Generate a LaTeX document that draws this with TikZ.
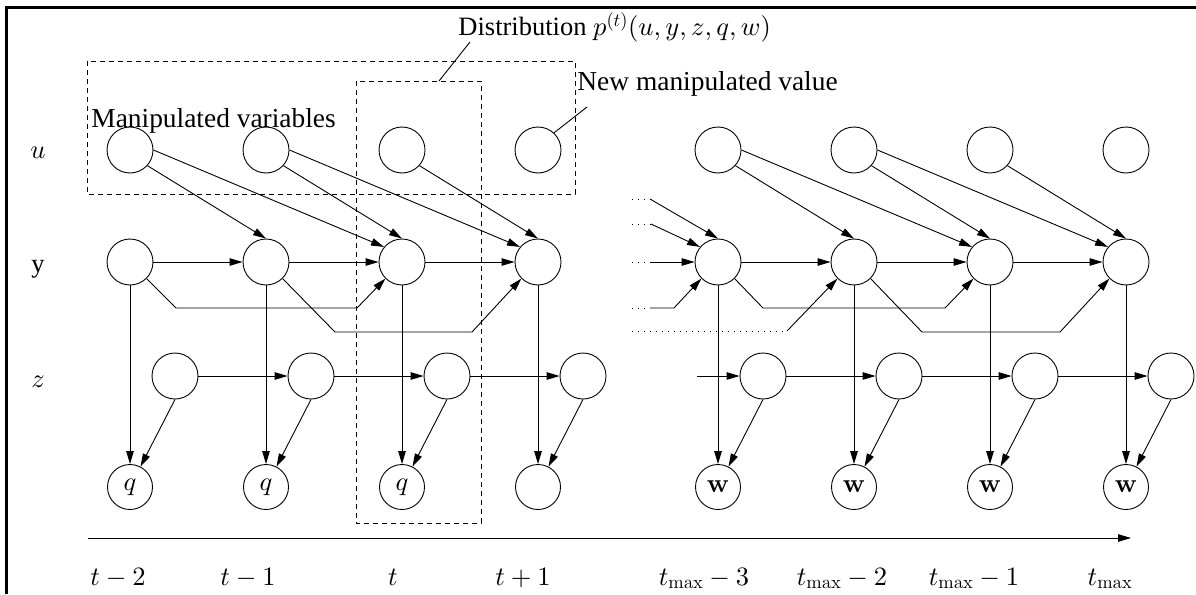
\documentclass[tikz,border=0pt]{standalone}
\usepackage[no-math]{fontspec}
\setmainfont{Liberation Serif}
\DeclareFontShape{OML}{cmm}{m}{it}{<->cmmi10}{}
\DeclareFontShape{OT1}{cmr}{m}{n}{<->cmr10}{}
\DeclareFontShape{OT1}{cmr}{bx}{n}{<->cmbx10}{}
\DeclareFontShape{OMS}{cmsy}{m}{n}{<->cmsy10}{}
\usetikzlibrary{arrows.meta,shapes.geometric}
\begin{document}
\begin{tikzpicture}[x=1pt,y=-1pt,line width=0.9pt,
  font=\fontsize{26.5}{30}\selectfont,
  nd/.style={circle,draw,minimum size=46pt,inner sep=0pt},
  obs/.style={circle,draw,minimum size=45pt,inner sep=0pt},
  arr/.style={-{Triangle[length=13pt,width=7.5pt]}},
  dsh/.style={dash pattern=on 5pt off 4pt},
  dotl/.style={dash pattern=on 1.2pt off 4.8pt},
  lbl/.style={anchor=base,inner sep=0pt},
  txt/.style={anchor=base west,inner sep=0pt},
  bigtxt/.style={txt,font=\fontsize{27.4}{31}\selectfont}]
\useasboundingbox (0,0) rectangle (1196,594);
% frame
\draw[line width=3pt] (6,594) -- (6,7.5) -- (1196,7.5);
% nodes
\foreach \n/\x in {1/130,2/266,3/402,4/538,5/718,6/854,7/990,8/1126}{
  \node[nd] (u\n) at (\x,150) {};
  \node[nd] (y\n) at (\x,262) {};
  \node[nd] (z\n) at (\x+45,376) {};
}
\node[obs] (o1) at (130,487) {$q$};
\node[obs] (o2) at (266,487) {$q$};
\node[obs] (o3) at (402,487) {$q$};
\node[obs] (o4) at (538,487) {};
\node[obs] (o5) at (718,487) {$\mathbf{w}$};
\node[obs] (o6) at (854,487) {$\mathbf{w}$};
\node[obs] (o7) at (990,487) {$\mathbf{w}$};
\node[obs] (o8) at (1126,487) {$\mathbf{w}$};
% u -> y
\foreach \a/\b/\c in {1/2/3,2/3/4,5/6/7,6/7/8}{
  \draw[arr] (u\a.-42) -- (y\b.north);
  \draw[arr] (u\a.east) -- (y\c.140);
}
\draw[arr] (u3.-42) -- (y4.north);
\draw[arr] (u7.-42) -- (y8.north);
% y -> y
\foreach \a/\b in {1/2,2/3,3/4,5/6,6/7,7/8}{
  \draw[arr] (y\a) -- (y\b);
}
% skip connections
\draw[arr] (y1.-45) -- (176,308) -- (357,308) -- (y3.-135);
\draw[arr] (y2.-45) -- (335,332) -- (472,332) -- (y4.-135);
\draw[arr] (y5.-45) -- (763,308) -- (945,308) -- (y7.-135);
\draw[arr] (y6.-45) -- (922,332) -- (1060,332) -- (y8.-135);
% y -> observed, z -> observed
\foreach \n in {1,...,8}{
  \draw[arr] (y\n) -- (o\n);
  \draw[arr] (z\n.south) -- (o\n);
}
% z -> z
\foreach \a/\b in {1/2,2/3,3/4,5/6,6/7,7/8}{
  \draw[arr] (z\a) -- (z\b);
}
\coordinate (zin) at (697,376);
\draw[arr] (zin) -- (z5);
% dotted inputs to the right block
\coordinate (d1) at (632,199); \coordinate (d1e) at (650,199);
\coordinate (d2) at (632,224); \coordinate (d2e) at (651,224);
\coordinate (d3) at (632,262); \coordinate (d3e) at (650,262);
\coordinate (d4) at (632,308); \coordinate (d4e) at (650,308);
\coordinate (d5) at (632,331); \coordinate (d5e) at (787,331);
\foreach \k in {1,...,5}{ \draw[dotl] (d\k) -- (d\k e); }
\draw[arr] (d1e) -- (y5.north);
\draw[arr] (d2e) -- (y5.140);
\draw[arr] (d3e) -- (y5.west);
\draw[arr] (d4e) -- (674,308) -- (y5.-135);
\draw[arr] (d5e) -- (y6.-135);
% dashed boxes
\draw[dsh] (87,61) rectangle (575,194);
\draw[dsh] (356,81) rectangle (481,523);
% annotations
\node[txt] (dist) at (458,36) {Distribution $p^{(t)}(u,y,z,q,w)$};
\coordinate (dl0) at (470,42); \coordinate (dl1) at (439,81);
\draw (dl0) -- (dl1);
\node[bigtxt] (manip) at (91,127) {Manipulated variables};
\node[bigtxt] (newv) at (577,90) {New manipulated value};
\coordinate (nl0) at (587,107);
\draw (nl0) -- (u4.47);
% row labels
\node[lbl] (lu) at (38,158) {$u$};
\node[lbl] (ly) at (38,272) {y};
\node[lbl] (lz) at (38,387) {$z$};
% time axis
\coordinate (a0) at (88,538); \coordinate (a1) at (1131,538);
\draw[arr] (a0) -- (a1);
\node[lbl] (t1) at (118,585) {$t-2$};
\node[lbl] (t2) at (248,585) {$t-1$};
\node[lbl] (t3) at (393,585) {$t$};
\node[lbl] (t4) at (523,585) {$t+1$};
\node[lbl] (t5) at (704,585) {$t_{\max}-3$};
\node[lbl] (t6) at (842,585) {$t_{\max}-2$};
\node[lbl] (t7) at (974,585) {$t_{\max}-1$};
\node[lbl] (t8) at (1110,585) {$t_{\max}$};
\end{tikzpicture}
\end{document}
